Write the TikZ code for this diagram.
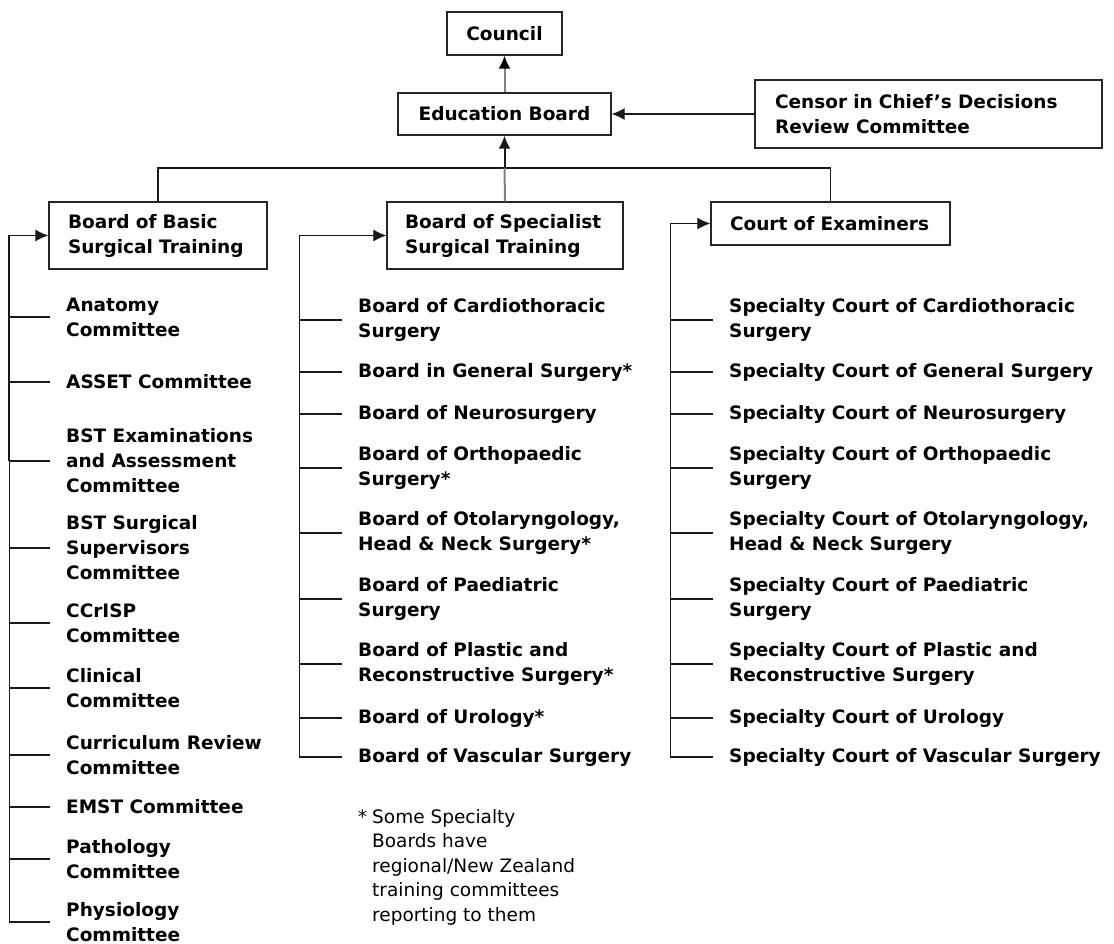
\documentclass[tikz,border=0pt]{standalone}
\usepackage{fontspec}
\setmainfont{DejaVu Sans}
\usetikzlibrary{arrows.meta,positioning}
\definecolor{linkgrey}{RGB}{128,128,128}
\newcommand{\chartfont}{\fontsize{18.5}{25}\selectfont}
\tikzset{
  box/.style={draw=black!85,line width=1.3pt,inner sep=0pt,font=\chartfont\bfseries,align=left},
  item/.style={anchor=west,inner xsep=16pt,inner ysep=0pt,font=\chartfont\bfseries,align=left},
  note/.style={anchor=west,inner sep=0pt,font=\fontsize{18.5}{24.5}\selectfont,align=left},
  link/.style={draw=black!90,line width=1.2pt},
  feed/.style={link,-{Latex[length=13pt,width=12pt]}},
  upfeed/.style={draw=linkgrey,line width=2pt,-{Latex[length=13pt,width=12pt,color=black]}},
}

\begin{document}
\begin{tikzpicture}[x=1pt,y=-1pt]
  \useasboundingbox (0,0) rectangle (1114,944);
  % --- top of the chart
  \node[box,minimum width=115pt,minimum height=43pt,align=center] (council) at (504.5,33.5) {Council};
  \node[box,minimum width=213pt,minimum height=42pt,align=center] (edu) at (504.5,114) {Education Board};
  \node[box,minimum width=347pt,minimum height=68pt,text width=307pt] (censor) at (928.5,114)
    {Censor in Chief's Decisions\\Review Committee};
  \draw[upfeed] (edu.north) -- (council.south);
  \draw[feed] (censor.west) -- (edu.east);
  % --- the three boards
  \node[box,minimum width=218pt,minimum height=67pt,text width=180pt] (basic) at (158,235.5)
    {Board of Basic\\Surgical Training};
  \node[box,minimum width=236pt,minimum height=67pt,text width=200pt] (spec) at (505,235.5)
    {Board of Specialist\\Surgical Training};
  \node[box,minimum width=239pt,minimum height=43pt,text width=201pt] (court) at (830.5,223.5)
    {Court of Examiners};
  \coordinate (bus) at (504.5,168);
  \draw[link] (basic.north) |- (bus) -| (court.north);
  \draw[draw=linkgrey,line width=2pt] (spec.north) -- (bus);
  \draw[feed,line width=2pt] (bus) -- (edu.south);
  % --- basic surgical training committees
  \foreach \n/\y/\t in {1/317/{Anatomy\\Committee},2/382/{ASSET Committee},
      3/461/{BST Examinations\\and Assessment\\Committee},4/548/{BST Surgical\\Supervisors\\Committee},
      5/623/{CCrISP\\Committee},6/688/{Clinical\\Committee},7/755/{Curriculum Review\\Committee},
      8/807/{EMST Committee},9/859/{Pathology\\Committee},10/922/{Physiology\\Committee}}
    \node[item] (b\n) at (50,\y) {\t};
  \path (basic.west) ++(-39,0) coordinate (bsp);
  \draw[feed] (b10.west) -| (bsp) -- (basic.west);
  \draw[link,line width=2.2pt] (bsp) -- (bsp |- b3.west);
  \foreach \n in {1,...,9}
    \draw[link] (b\n.west) -- (b\n.west -| bsp);
  % --- specialist boards
  \foreach \n/\y/\t in {1/320/{Board of Cardiothoracic\\Surgery},2/372/{Board in General Surgery*},
      3/414/{Board of Neurosurgery},4/468/{Board of Orthopaedic\\Surgery*},
      5/533/{Board of Otolaryngology,\\Head \& Neck Surgery*},6/599/{Board of Paediatric\\Surgery},
      7/664/{Board of Plastic and\\Reconstructive Surgery*},8/718/{Board of Urology*},
      9/757/{Board of Vascular Surgery}}
    \node[item] (s\n) at (342,\y) {\t};
  \path (spec.west) ++(-87,0) coordinate (ssp);
  \draw[feed] (s9.west) -| (ssp) -- (spec.west);
  \foreach \n in {1,...,8}
    \draw[link] (s\n.west) -- (s\n.west -| ssp);
  % --- specialty courts
  \foreach \n/\y/\t in {1/320/{Specialty Court of Cardiothoracic\\Surgery},
      2/372/{Specialty Court of General Surgery},3/414/{Specialty Court of Neurosurgery},
      4/468/{Specialty Court of Orthopaedic\\Surgery},
      5/533/{Specialty Court of Otolaryngology,\\Head \& Neck Surgery},
      6/599/{Specialty Court of Paediatric\\Surgery},
      7/664/{Specialty Court of Plastic and\\Reconstructive Surgery},
      8/718/{Specialty Court of Urology},9/757/{Specialty Court of Vascular Surgery}}
    \node[item] (c\n) at (713,\y) {\t};
  \path (court.west) ++(-40,0) coordinate (csp);
  \draw[feed] (c9.west) -| (csp) -- (court.west);
  \foreach \n in {1,...,8}
    \draw[link] (c\n.west) -- (c\n.west -| csp);
  % --- footnote
  \node[note] (fnote) at (372,867) {\llap{*\hspace{5pt}}Some Specialty\\Boards have\\regional/New Zealand\\training committees\\reporting to them};
\end{tikzpicture}
\end{document}
